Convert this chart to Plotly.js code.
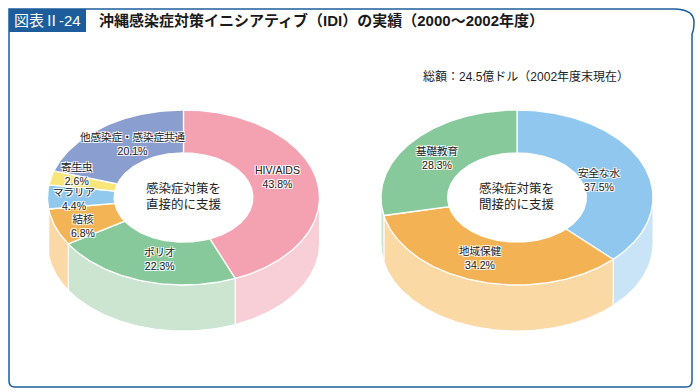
<!DOCTYPE html>
<html>
<head>
<meta charset="utf-8">
<script src="https://cdn.plot.ly/plotly-3.0.1.min.js"></script>
<style>html,body{margin:0;padding:0;background:#fff;}#chart{width:700px;height:392px;}</style>
</head>
<body>
<div id="chart"></div>
<script>
// ---- data ----
const leftLabels = ['HIV/AIDS', 'ポリオ', '結核', 'マラリア', '寄生虫', '他感染症・感染症共通'];
const leftValues = [43.8, 22.3, 6.8, 4.4, 2.6, 20.1];
const leftCenterText = '感染症対策を<br>直接的に支援';

const rightLabels = ['安全な水', '地域保健', '基礎教育'];
const rightValues = [37.5, 34.2, 28.3];
const rightCenterText = '感染症対策を<br>間接的に支援';

const figureNumber = '図表Ⅱ-24';
const figureTitle = '沖縄感染症対策イニシアティブ（IDI）の実績（2000〜2002年度）';
const totalNote = '総額：24.5億ドル（2002年度末現在）';

// ---- styles ----
const leftTop  = ['#F4A1B1', '#88C99C', '#F3B456', '#90C8EE', '#F9E67A', '#8B9ED0'];
const leftSide = ['#F9CFD7', '#CBE5D1', '#FAD9A6', '#C9E3F7', '#FCF2BC', '#C5CEE8'];
const rightTop  = ['#8FC7EE', '#F3B354', '#88C99C'];
const rightSide = ['#C9E3F7', '#FAD9A5', '#CBE5D1'];
// label nudges (px) relative to slice mid-ring position
const leftNudge  = [[-7,-8],[8,-1],[-4,6],[-7,2],[-6,-9],[10,0]];
const rightNudge = [[-12,8],[-7,-3],[0,2]];

const G = {cy: 197.5, rx: 136, ry: 87.5, depth: 46, hole: 0.51};
const FONT = 'Liberation Sans, Noto Sans CJK JP, sans-serif';

function arcPts(cx, cy, rx, ry, t1, t2, dy) {
  const n = Math.max(2, Math.ceil(Math.abs(t2 - t1)));
  const xs = [], ys = [];
  for (let i = 0; i <= n; i++) {
    const t = (t1 + (t2 - t1) * i / n) * Math.PI / 180;
    xs.push(cx + rx * Math.sin(t));
    ys.push(cy - ry * Math.cos(t) + dy);
  }
  return [xs, ys];
}

const traces = [];
const annotations = [];

function donut(cx, values, labels, topCols, sideCols, nudges, centerText) {
  const total = values.reduce((a, b) => a + b, 0);
  let acc = 0;
  const spans = values.map(v => { const s = [acc / total * 360, (acc + v) / total * 360]; acc += v; return s; });
  // sides (front half)
  spans.forEach((s, i) => {
    const a = Math.max(s[0], 90), b = Math.min(s[1], 270);
    if (b <= a) return;
    const [x1, y1] = arcPts(cx, G.cy, G.rx, G.ry, a, b, 0);
    const [x2, y2] = arcPts(cx, G.cy, G.rx, G.ry, b, a, G.depth);
    const xs = x1.concat(x2, [x1[0]]), ys = y1.concat(y2, [y1[0]]);
    traces.push({type: 'scatter', mode: 'lines', x: xs, y: ys, fill: 'toself',
      fillcolor: sideCols[i], line: {color: '#ffffff', width: 1}, hoverinfo: 'skip', showlegend: false});
  });
  // top faces
  spans.forEach((s, i) => {
    const [x1, y1] = arcPts(cx, G.cy, G.rx, G.ry, s[0], s[1], 0);
    const [x2, y2] = arcPts(cx, G.cy, G.rx * G.hole, G.ry * G.hole, s[1], s[0], 0);
    const xs = x1.concat(x2, [x1[0]]), ys = y1.concat(y2, [y1[0]]);
    traces.push({type: 'scatter', mode: 'lines', x: xs, y: ys, fill: 'toself',
      fillcolor: topCols[i], line: {color: '#ffffff', width: 1.3}, hoverinfo: 'skip', showlegend: false});
    const mid = (s[0] + s[1]) / 2 * Math.PI / 180;
    const rf = (1 + G.hole) / 2;
    annotations.push({
      x: cx + G.rx * rf * Math.sin(mid) + nudges[i][0],
      y: G.cy - G.ry * rf * Math.cos(mid) + nudges[i][1],
      xref: 'x', yref: 'y', showarrow: false,
      text: labels[i] + '<br>' + values[i].toFixed(1) + '%',
      font: {family: FONT, size: 10.5, color: '#222',
             shadow: '-1px -1px 0 #fff, 1px -1px 0 #fff, -1px 1px 0 #fff, 1px 1px 0 #fff'},
      xanchor: 'center', yanchor: 'middle'
    });
  });
  annotations.push({x: cx, y: G.cy - 1, xref: 'x', yref: 'y', showarrow: false, text: centerText,
    font: {family: FONT, size: 12.5, color: '#222'}, xanchor: 'center', yanchor: 'middle'});
}

donut(183.5, leftValues, leftLabels, leftTop, leftSide, leftNudge, leftCenterText);
donut(517, rightValues, rightLabels, rightTop, rightSide, rightNudge, rightCenterText);

annotations.push({x: 47.5, y: 20.5, xref: 'x', yref: 'y', showarrow: false, text: figureNumber,
  font: {family: FONT, size: 15, color: '#ffffff'}, xanchor: 'center', yanchor: 'middle'});
annotations.push({x: 97, y: 20.5, xref: 'x', yref: 'y', showarrow: false, text: figureTitle,
  font: {family: FONT, size: 15, color: '#1a1a1a', weight: 'bold'}, xanchor: 'left', yanchor: 'middle'});
annotations.push({x: 526, y: 76, xref: 'x', yref: 'y', showarrow: false, text: totalNote,
  font: {family: FONT, size: 12, color: '#222'}, xanchor: 'center', yanchor: 'middle'});

const BLUE = '#1d5d9b';
const layout = {
  width: 700, height: 392,
  margin: {l: 0, r: 0, t: 0, b: 0},
  paper_bgcolor: '#ffffff', plot_bgcolor: '#ffffff',
  showlegend: false,
  xaxis: {range: [0, 700], visible: false, fixedrange: true},
  yaxis: {range: [392, 0], visible: false, fixedrange: true},
  shapes: [
    {type: 'path', xref: 'x', yref: 'y', layer: 'below',
     path: 'M 9,9 L 676,9 Q 694,10 694,22 Q 694,30 692,34 L 692,381 Q 692,387 686,387 L 15,387 Q 9,387 9,381 Z',
     line: {color: BLUE, width: 1.5}, fillcolor: 'rgba(0,0,0,0)'},
    {type: 'rect', xref: 'x', yref: 'y', x0: 9, x1: 86, y0: 9, y1: 32, layer: 'below',
     fillcolor: BLUE, line: {width: 0}}
  ],
  annotations: annotations
};

Plotly.newPlot('chart', traces, layout, {staticPlot: true, displayModeBar: false});
</script>
</body>
</html>
